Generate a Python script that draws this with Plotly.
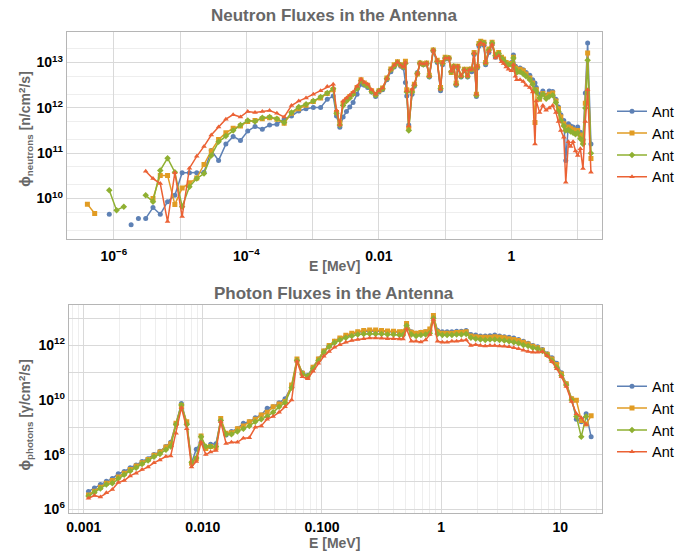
import plotly.graph_objects as go

W, H = 679, 555
N = None
NAMES = ["Ant", "Ant", "Ant", "Ant"]
COLORS = ["#5E81B5", "#E19C24", "#8FB032", "#EB6235"]
SYMBOLS = ["circle", "square", "diamond", "triangle-up"]

# ---------------- Neutron data (log10 E [MeV], log10 flux) ----------------
n_logE = [-6.40, -6.29, -6.18, -6.07, -5.96, -5.85, -5.74, -5.685, -5.63, -5.575,
          -5.52, -5.41, -5.30, -5.19, -5.08, -4.97, -4.86, -4.75, -4.64, -4.53,
          -4.42, -4.31, -4.20, -4.09, -3.98, -3.87, -3.76, -3.65, -3.54, -3.43,
          -3.32, -3.21, -3.10, -2.99, -2.88, -2.78, -2.69,
          -2.64, -2.59, -2.54, -2.49, -2.44, -2.39, -2.33, -2.27, -2.22, -2.17,
          -2.11, -2.05, -2.00, -1.945, -1.88, -1.82, -1.77, -1.72, -1.67, -1.63,
          -1.60, -1.58, -1.55, -1.50, -1.465, -1.42, -1.38, -1.33, -1.28, -1.24,
          -1.18, -1.12, -1.07, -1.04, -1.00, -0.944, -0.908, -0.87, -0.834, -0.81,
          -0.76, -0.711, -0.662, -0.637, -0.60, -0.563, -0.529, -0.514, -0.49, -0.464,
          -0.415, -0.39, -0.341, -0.292, -0.242, -0.193, -0.15, -0.119, -0.08, -0.044,
          0.00, 0.03, 0.06, 0.08, 0.13, 0.178, 0.22, 0.277, 0.32, 0.355,
          0.375, 0.425, 0.474, 0.523, 0.57, 0.622, 0.671, 0.71, 0.745, 0.79,
          0.82, 0.86, 0.893, 0.93, 0.967, 1.00, 1.04, 1.08, 1.115, 1.15,
          1.20]

n_blue = [N, N, N, 9.65, N, N, 9.42, N, 9.56, N,
          9.56, 9.80, 9.65, 9.93, 10.07, 10.57, 10.57, 10.57, 10.58, 11.06,
          10.84, 11.20, 11.37, 11.28, 11.49, 11.59, 11.53, 11.62, 11.64, 11.75,
          11.82, 11.93, 11.98, 12.01, 12.01, 12.19, 12.26,
          11.82, 11.57, 11.80, 11.92, 12.02, 12.12, 12.30, 12.52, 12.50, 12.45,
          12.35, 12.25, 12.35, 12.40, 12.62, 12.80, 12.90, 12.99, 12.92, 12.88,
          12.56, 12.26, 11.62, 12.30, 12.48, 12.78, 12.98, 12.95, 12.97, 12.68,
          13.25, 13.00, 12.38, 12.95, 13.08, 13.08, 12.80, 12.90, 12.50, 12.88,
          12.68, 12.82, 12.68, 12.82, 12.80, 13.18, 12.25, 12.88, 13.36, 13.42,
          13.38, 12.95, 13.22, 13.40, 13.12, 13.18, 13.08, 13.05, 12.98, 12.95,
          13.00, 13.17, 12.92, 12.85, 12.88, 12.84, 12.78, 12.72, 12.62, 12.55,
          12.45, 12.30, 12.37, 12.28, 12.37, 12.36, 12.19, 12.02, 11.85, 11.72,
          10.84, 11.65, 11.60, 11.58, 11.52, 11.58, 11.46, 11.30, 12.33, 13.43,
          11.20]

n_orange = [9.875, 9.67, N, N, N, N, N, N, N, N,
            N, 10.00, 10.51, 10.51, 9.87, 10.23, 10.35, 10.45, 10.75, 11.05,
            11.30, 11.45, 11.55, 11.60, 11.70, 11.72, 11.76, 11.78, 11.75, 11.66,
            11.88, 11.98, 12.06, 12.14, 12.22, 12.32, 12.40,
            11.90, 11.68, 12.10, 12.18, 12.25, 12.32, 12.45, 12.62, 12.55, 12.50,
            12.38, 12.30, 12.38, 12.44, 12.66, 12.86, 12.95, 13.02, 12.95, 12.92,
            13.03, 12.40, 11.55, 12.38, 12.52, 12.75, 12.99, 12.97, 12.99, 12.72,
            13.28, 13.05, 12.45, 13.00, 13.12, 13.10, 12.78, 12.92, 12.55, 12.92,
            12.72, 12.85, 12.72, 12.85, 12.86, 13.22, 12.30, 12.92, 13.42, 13.47,
            13.45, 13.00, 13.30, 13.45, 13.18, 13.22, 13.12, 13.08, 13.00, 12.97,
            12.98, 13.12, 12.88, 12.80, 12.85, 12.82, 12.75, 12.66, 12.55, 11.68,
            12.40, 12.19, 12.32, 12.26, 12.30, 12.33, 12.15, 11.98, 11.80, 11.65,
            11.55, 11.58, 11.55, 11.52, 11.48, 11.50, 11.40, 11.25, 12.10, 13.21,
            10.88]

n_green = [N, N, N, 10.18, 9.74, 9.82, N, N, N, N,
           10.07, 9.93, 10.62, 10.89, 10.58, 9.82, 10.26, 10.44, 10.55, 10.95,
           11.25, 11.38, 11.50, 11.62, 11.72, 11.70, 11.78, 11.80, 11.76, 11.68,
           11.90, 12.02, 12.08, 12.15, 12.24, 12.33, 12.42,
           11.88, 11.62, 12.05, 12.15, 12.22, 12.30, 12.42, 12.60, 12.52, 12.48,
           12.36, 12.28, 12.38, 12.42, 12.65, 12.84, 12.92, 13.00, 12.94, 12.90,
           12.98, 12.35, 11.50, 12.35, 12.50, 12.76, 12.99, 12.96, 12.98, 12.70,
           13.27, 13.03, 12.42, 12.98, 13.10, 13.10, 12.80, 12.92, 12.52, 12.90,
           12.70, 12.84, 12.70, 12.84, 12.85, 13.20, 12.28, 12.90, 13.40, 13.45,
           13.43, 12.99, 13.28, 13.43, 13.15, 13.20, 13.10, 13.05, 12.97, 12.95,
           12.95, 13.10, 12.85, 12.78, 12.80, 12.75, 12.70, 12.62, 12.52, 12.40,
           12.35, 12.22, 12.30, 12.20, 12.25, 12.28, 12.12, 11.92, 11.72, 11.60,
           11.50, 11.52, 11.48, 11.45, 11.42, 11.45, 11.32, 11.20, 12.00, 13.05,
           11.00]

n_red = [N, N, N, N, N, N, N, N, N, N,
         10.60, 10.44, 10.33, 9.49, 10.57, 9.60, 10.67, 10.93, 11.15, 11.40,
         11.58, 11.75, 11.85, 11.80, 11.92, 11.90, 11.92, 11.94, 11.88, 11.80,
         12.05, 12.15, 12.22, 12.30, 12.38, 12.47, 12.52,
         11.95, 11.62, 12.15, 12.22, 12.28, 12.35, 12.48, 12.63, 12.56, 12.52,
         12.40, 12.30, 12.38, 12.44, 12.65, 12.85, 12.94, 13.01, 12.94, 12.90,
         13.00, 12.38, 11.60, 12.41, 12.52, 12.76, 12.99, 12.97, 12.99, 12.70,
         13.28, 13.04, 12.41, 13.00, 13.10, 13.10, 12.81, 12.92, 12.52, 12.92,
         12.70, 12.84, 12.70, 12.84, 12.85, 13.21, 12.30, 12.92, 13.40, 13.44,
         13.40, 12.99, 13.25, 13.40, 13.10, 13.15, 13.02, 12.98, 12.90, 12.85,
         12.82, 12.95, 12.70, 12.62, 12.62, 12.58, 12.50, 12.45, 12.35, 11.20,
         12.15, 11.90, 12.05, 11.95, 12.00, 12.05, 11.90, 11.70, 11.50, 11.35,
         10.36, 11.25, 11.15, 11.25, 11.05, 10.95, 11.10, 10.66, 11.70, 12.40,
         10.58]

# ---------------- Photon data (log10 E [MeV], log10 flux) ----------------
p_logE = [-2.96, -2.91, -2.86, -2.81, -2.76, -2.71, -2.66, -2.61, -2.56, -2.51,
          -2.46, -2.41, -2.36, -2.31,
          -2.27, -2.225, -2.18, -2.135, -2.095, -2.055, -2.015, -1.975, -1.935, -1.89,
          -1.85, -1.805,
          -1.76, -1.71, -1.66, -1.61, -1.56, -1.51, -1.46, -1.41, -1.36, -1.31, -1.255,
          -1.21, -1.165, -1.12, -1.075, -1.03, -0.985, -0.94, -0.895, -0.85, -0.80,
          -0.75, -0.70, -0.65, -0.60, -0.55, -0.50, -0.45, -0.40, -0.35,
          -0.32, -0.29, -0.25, -0.21, -0.17, -0.13, -0.095, -0.065, -0.03,
          0.01, 0.05, 0.09, 0.13, 0.17, 0.21, 0.25, 0.29, 0.33, 0.37,
          0.41, 0.45, 0.49, 0.53, 0.57, 0.61, 0.65, 0.69, 0.73, 0.77,
          0.81, 0.85, 0.89, 0.93, 0.97, 1.01, 1.05, 1.095, 1.135, 1.176,
          1.217, 1.259]

p_blue = [6.65, 6.78, 6.90, 7.02, 7.12, 7.30, 7.38, 7.52, 7.62, 7.75,
          7.85, 8.00, 8.12, 8.30,
          8.45, 9.14, 9.87, 9.14, 7.70, 8.20, 8.45, 8.25, 8.38, 8.40,
          9.25, 8.72,
          8.85, 8.95, 9.15, 9.20, 9.35, 9.45, 9.70, 9.75, 9.90, 10.05, 10.50,
          11.45, 11.00, 10.90, 11.20, 11.50, 11.80, 12.00, 12.15, 12.25, 12.35,
          12.42, 12.48, 12.52, 12.53, 12.53, 12.52, 12.50, 12.50, 12.48,
          12.48, 12.78, 12.50, 12.45, 12.48, 12.50, 12.55, 13.05, 12.55,
          12.50, 12.50, 12.50, 12.52, 12.52, 12.55, 12.40, 12.38, 12.35, 12.35,
          12.36, 12.38, 12.35, 12.32, 12.30, 12.27, 12.22, 12.15, 12.08, 12.00,
          11.95, 11.85, 11.70, 11.55, 11.35, 11.00, 10.60, 10.05, 9.30, 9.20,
          9.50, 8.65]

p_orange = [6.52, 6.66, 6.80, 6.95, 7.05, 7.18, 7.32, 7.45, 7.58, 7.70,
            7.82, 7.98, 8.10, 8.28,
            8.40, 9.15, 9.80, 9.20, 7.68, 7.85, 8.68, 8.22, 8.30, 8.25,
            9.32, 8.78,
            8.80, 8.95, 9.05, 9.20, 9.30, 9.45, 9.55, 9.75, 9.85, 9.95, 10.55,
            11.50, 10.98, 10.85, 11.20, 11.50, 11.80, 12.00, 12.15, 12.27, 12.37,
            12.45, 12.50, 12.55, 12.57, 12.57, 12.55, 12.53, 12.52, 12.50,
            12.50, 12.80, 12.48, 12.45, 12.47, 12.50, 12.60, 13.10, 12.50,
            12.45, 12.45, 12.45, 12.47, 12.48, 12.50, 12.35, 12.32, 12.30, 12.30,
            12.30, 12.32, 12.30, 12.28, 12.25, 12.22, 12.18, 12.12, 12.05, 11.97,
            11.92, 11.82, 11.68, 11.50, 11.30, 10.95, 10.60, 10.05, 9.99, 9.25,
            9.12, 9.42]

p_green = [6.48, 6.62, 6.76, 6.90, 6.95, 7.12, 7.26, 7.40, 7.52, 7.66,
           7.78, 7.92, 8.02, 8.18,
           8.30, 9.10, 9.82, 9.10, 7.72, 7.88, 8.65, 8.30, 8.30, 8.30,
           9.25, 8.75,
           8.75, 8.85, 8.95, 9.05, 9.20, 9.30, 9.40, 9.55, 9.75, 9.90, 10.45,
           11.45, 10.95, 10.88, 11.15, 11.45, 11.75, 11.95, 12.10, 12.20, 12.28,
           12.35, 12.40, 12.42, 12.43, 12.42, 12.42, 12.40, 12.40, 12.38,
           12.38, 12.72, 12.40, 12.35, 12.38, 12.40, 12.45, 13.00, 12.42,
           12.38, 12.38, 12.38, 12.40, 12.40, 12.42, 12.28, 12.25, 12.22, 12.20,
           12.22, 12.22, 12.20, 12.18, 12.15, 12.12, 12.08, 12.02, 11.98, 11.92,
           11.88, 11.80, 11.65, 11.45, 11.20, 10.90, 10.55, 10.00, 9.40, 8.65,
           9.40, N]

p_red = [6.40, 6.50, 6.45, 6.60, 6.72, 6.98, 7.05, 7.22, 7.32, 7.45,
         7.55, 7.70, 7.80, 7.93,
         7.95, 8.78, 9.72, 8.95, 7.55, 7.75, 8.45, 8.00, 8.10, 8.15,
         9.20, 8.41,
         8.45, 8.45, 8.60, 8.62, 9.00, 9.05, 9.30, 9.40, 9.55, 9.75, 10.00,
         11.42, 10.85, 10.78, 11.05, 11.35, 11.60, 11.78, 11.93, 12.03, 12.12,
         12.18, 12.22, 12.25, 12.27, 12.27, 12.26, 12.25, 12.25, 12.24,
         12.24, 12.60, 12.15, 12.15, 12.13, 12.20, 12.40, 12.95, 12.15,
         12.12, 12.12, 12.15, 12.15, 12.18, 12.20, 12.00, 12.03, 12.00, 11.98,
         12.00, 12.00, 11.98, 11.97, 11.95, 11.92, 11.88, 11.82, 11.78, 11.75,
         11.75, 11.78, 11.62, 11.40, 11.15, 10.85, 10.50, 9.95, 9.50, 9.35,
         9.10, N]


def lin(vals):
    return [None if v is None else 10 ** v for v in vals]


n_E = lin(n_logE)
p_E = lin(p_logE)

fig = go.Figure()

for i, ys in enumerate([n_blue, n_orange, n_green, n_red]):
    fig.add_trace(go.Scatter(
        x=n_E, y=lin(ys), mode="lines+markers", name=NAMES[i],
        line=dict(color=COLORS[i], width=1.5),
        marker=dict(color=COLORS[i], symbol=SYMBOLS[i], size=5),
        xaxis="x", yaxis="y", legend="legend", connectgaps=False))

for i, ys in enumerate([p_blue, p_orange, p_green, p_red]):
    fig.add_trace(go.Scatter(
        x=p_E, y=lin(ys), mode="lines+markers", name=NAMES[i],
        line=dict(color=COLORS[i], width=1.5),
        marker=dict(color=COLORS[i], symbol=SYMBOLS[i], size=5),
        xaxis="x2", yaxis="y2", legend="legend2", connectgaps=False))


def px(x):
    return x / W


def py(y):
    return 1 - y / H


FONT = "Liberation Sans, Arial, Helvetica, sans-serif"
FRAME = "#b5b5b5"
GRID = "#d9d9d9"
MINOR = "#eeeeee"
TGRAY = "#676767"

top_xvals = [1e-6, 1e-5, 1e-4, 1e-3, 1e-2, 1e-1, 1, 10]
top_xtext = ["<b>10<sup>−6</sup></b>", "", "<b>10<sup>−4</sup></b>", "",
             "<b>0.01</b>", "", "<b>1</b>", ""]
top_yvals = [1e10, 1e11, 1e12, 1e13]
top_ytext = ["<b>10<sup>10</sup></b>", "<b>10<sup>11</sup></b>",
             "<b>10<sup>12</sup></b>", "<b>10<sup>13</sup></b>"]
bot_xvals = [0.001, 0.01, 0.1, 1, 10]
bot_xtext = ["<b>0.001</b>", "<b>0.010</b>", "<b>0.100</b>", "<b>1</b>", "<b>10</b>"]
bot_yvals = [1e6, 1e7, 1e8, 1e9, 1e10, 1e11, 1e12, 1e13]
bot_ytext = ["<b>10<sup>6</sup></b>", "", "<b>10<sup>8</sup></b>", "",
             "<b>10<sup>10</sup></b>", "", "<b>10<sup>12</sup></b>", ""]

common = dict(type="log", showline=True, mirror=True, linecolor=FRAME, linewidth=1.3,
              showgrid=True, gridcolor=GRID, gridwidth=1, zeroline=False,
              ticks="", tickfont=dict(family=FONT, size=14, color="black"),
              tickmode="array")


def ann(text, x, y, size, angle=0):
    return dict(text=text, x=px(x), y=py(y), xref="paper", yref="paper",
                xanchor="center", yanchor="middle", showarrow=False,
                textangle=angle, font=dict(family=FONT, size=size, color=TGRAY))


fig.update_layout(
    width=W, height=H, margin=dict(l=0, r=0, t=0, b=0),
    paper_bgcolor="white", plot_bgcolor="white",
    font=dict(family=FONT),
    xaxis=dict(common, domain=[px(65), px(610)], range=[-6.71, 1.37],
               tickvals=top_xvals, ticktext=top_xtext, anchor="y",
               ticklabelstandoff=4),
    yaxis=dict(common, domain=[py(241), py(32)], range=[9.10, 13.68],
               tickvals=top_yvals, ticktext=top_ytext, anchor="x",
               minor=dict(showgrid=True, gridcolor=MINOR, dtick="D2")),
    xaxis2=dict(common, domain=[px(67), px(610)], range=[-3.125, 1.352],
                tickvals=bot_xvals, ticktext=bot_xtext, anchor="y2",
                ticklabelstandoff=1,
                minor=dict(showgrid=True, gridcolor=MINOR, dtick="D1")),
    yaxis2=dict(common, domain=[py(517), py(307)], range=[5.85, 13.49],
                tickvals=bot_yvals, ticktext=bot_ytext, anchor="x2"),
    legend=dict(x=px(620), y=py(96), xanchor="left", yanchor="top",
                font=dict(family=FONT, size=14.5, color="black"),
                bgcolor="rgba(0,0,0,0)", itemwidth=30),
    legend2=dict(x=px(620), y=py(373), xanchor="left", yanchor="top",
                 font=dict(family=FONT, size=14.5, color="black"),
                 bgcolor="rgba(0,0,0,0)", itemwidth=30),
    annotations=[
        ann("<b>Neutron Fluxes in the Antenna</b>", 337, 16, 17),
        ann("<b>Photon Fluxes in the Antenna</b>", 337, 296, 17),
        ann("<b>E [MeV]</b>", 337, 268, 14),
        ann("<b>E [MeV]</b>", 337, 547, 14),
        ann("<b>ϕ<sub>neutrons</sub> [n/cm<sup>2</sup>/s]</b>", 23, 130, 14, -90),
        ann("<b>ϕ<sub>photons</sub> [γ/cm<sup>2</sup>/s]</b>", 23, 418, 14, -90),
    ],
)

fig.write_html("out.html")
